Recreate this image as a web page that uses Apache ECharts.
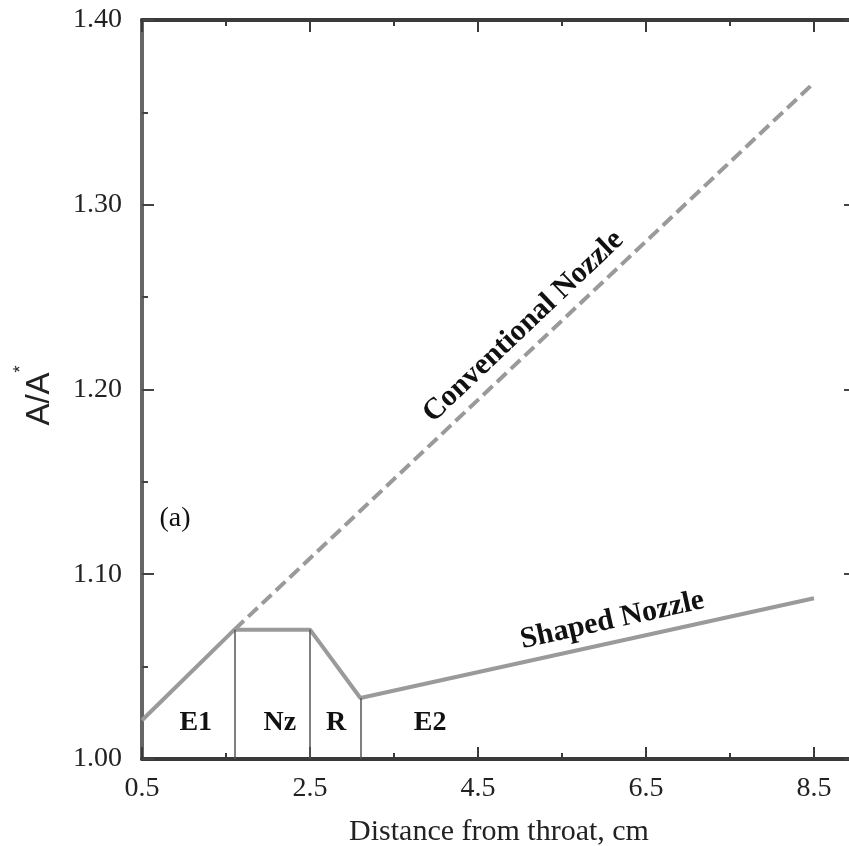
<!DOCTYPE html>
<html>
<head>
<meta charset="utf-8">
<script src="https://cdn.jsdelivr.net/npm/echarts@6/dist/echarts.min.js"></script>
<style>
html,body{margin:0;padding:0;background:#fff;}
#chart{width:849px;height:846px;}
</style>
</head>
<body>
<div id="chart"></div>
<script>
// ---- data ----
const xConventional = [1.6, 8.5];
const yConventional = [1.07, 1.366];
const xShaped = [0.5, 1.6, 2.5, 3.1, 8.5];
const yShaped = [1.021, 1.07, 1.07, 1.033, 1.087];
const boundaryX = [1.6, 2.5, 3.1];
const boundaryTop = [1.07, 1.07, 1.033];
const regionNames = ['E1', 'Nz', 'R', 'E2'];
const regionX = [1.14, 2.14, 2.81, 3.93];
const regionY = [1.0195, 1.0195, 1.0195, 1.0195];
const xTickLabels = ['0.5', '2.5', '4.5', '6.5', '8.5'];
const yTickLabels = ['1.00', '1.10', '1.20', '1.30', '1.40'];
const curveNames = ['Conventional Nozzle', 'Shaped Nozzle'];
const curveLabelX = [5.04, 6.10];
const curveLabelY = [1.234, 1.075];
const curveLabelAngle = [43.5, 12.5];
const panelLabel = '(a)';
const panelX = 0.893;
const panelY = 1.13;

const serif = 'Liberation Serif, Times New Roman, serif';
const sans = 'Liberation Sans, Arial, sans-serif';
const XMIN = 0.5, XMAX = 9.0, YMIN = 1.0, YMAX = 1.4;

function xAxisDef(pos, interval, tickLen, showLabel, lineShow) {
  return {
    type: 'value', position: pos, min: XMIN, max: XMAX, interval: interval,
    splitLine: {show: false},
    axisLine: {show: lineShow, onZero: false, lineStyle: {color: '#3a3a3a', width: 4}},
    axisTick: {show: true, inside: true, length: tickLen, lineStyle: {color: '#3a3a3a', width: 2}},
    axisLabel: {
      show: showLabel, margin: 16, fontFamily: serif, fontSize: 28, color: '#222',
      formatter: function (v) {
        const s = v.toFixed(1);
        return xTickLabels.indexOf(s) >= 0 ? s : '';
      }
    }
  };
}
function yAxisDef(pos, showLabel) {
  return {
    type: 'value', position: pos, min: YMIN, max: YMAX, interval: 0.1,
    splitLine: {show: false},
    axisLine: {show: true, onZero: false, lineStyle: {color: '#666', width: 4}},
    axisTick: {show: true, inside: true, length: 12, lineStyle: {color: '#444', width: 2}},
    minorTick: {show: true, splitNumber: 2, length: 6, lineStyle: {color: '#444', width: 2}},
    minorSplitLine: {show: false},
    axisLabel: {
      show: showLabel, margin: 20, fontFamily: serif, fontSize: 28, color: '#222',
      formatter: function (v) {
        const s = v.toFixed(2);
        return yTickLabels.indexOf(s) >= 0 ? s : '';
      }
    }
  };
}

const xA = xAxisDef('bottom', 2, 12, true, true);
xA.name = 'Distance from throat, cm';
xA.nameLocation = 'middle';
xA.nameGap = 58;
xA.nameTextStyle = {fontFamily: serif, fontSize: 30, color: '#222'};

const yA = yAxisDef('left', true);
yA.name = '{a|A/A}{s|*}';
yA.nameLocation = 'middle';
yA.nameGap = 86;
yA.nameTextStyle = {
  rich: {
    a: {fontFamily: sans, fontSize: 33, color: '#222', verticalAlign: 'bottom'},
    s: {fontFamily: sans, fontSize: 18, color: '#222', verticalAlign: 'top', padding: [0, 12, 26, 0]}
  }
};

const labelBase = {show: true, position: 'inside', formatter: p => p.name, opacity: 1, color: '#111'};

const option = {
  animation: false,
  backgroundColor: '#fff',
  grid: {left: 142, top: 20, width: 714, height: 739, containLabel: false, outerBoundsMode: 'none'},
  xAxis: [
    xA,
    xAxisDef('bottom', 1, 6, false, false),
    xAxisDef('top', 2, 12, false, true),
    xAxisDef('top', 1, 6, false, false)
  ],
  yAxis: [yA, yAxisDef('right', false)],
  series: [
    {
      type: 'line', name: curveNames[0], xAxisIndex: 0, yAxisIndex: 0,
      data: xConventional.map((x, i) => [x, yConventional[i]]),
      showSymbol: false, symbol: 'none', silent: true,
      lineStyle: {color: '#9a9a9a', width: 4, type: [13, 6]}
    },
    {
      type: 'line', name: curveNames[1], xAxisIndex: 0, yAxisIndex: 0,
      data: xShaped.map((x, i) => [x, yShaped[i]]),
      showSymbol: false, symbol: 'none', silent: true,
      lineStyle: {color: '#9a9a9a', width: 4},
      markLine: {
        silent: true, symbol: 'none', label: {show: false},
        lineStyle: {color: '#555', width: 1.5, type: 'solid'},
        data: boundaryX.map((x, i) => [{coord: [x, YMIN]}, {coord: [x, boundaryTop[i]]}])
      }
    },
    {
      type: 'scatter', xAxisIndex: 0, yAxisIndex: 0, symbolSize: 1, silent: true,
      itemStyle: {color: 'rgba(255,255,255,0)', opacity: 1},
      data: regionNames.map((n, i) => ({name: n, value: [regionX[i], regionY[i]]})),
      label: Object.assign({}, labelBase, {fontFamily: serif, fontSize: 28, fontWeight: 'bold'})
    },
    {
      type: 'scatter', xAxisIndex: 0, yAxisIndex: 0, symbolSize: 1, silent: true,
      itemStyle: {color: 'rgba(255,255,255,0)', opacity: 1},
      data: curveNames.map((n, i) => ({
        name: n, value: [curveLabelX[i], curveLabelY[i]],
        label: {rotate: curveLabelAngle[i]}
      })),
      label: Object.assign({}, labelBase, {fontFamily: serif, fontSize: 30, fontWeight: 'bold'})
    },
    {
      type: 'scatter', xAxisIndex: 0, yAxisIndex: 0, symbolSize: 1, silent: true,
      itemStyle: {color: 'rgba(255,255,255,0)', opacity: 1},
      data: [{name: panelLabel, value: [panelX, panelY]}],
      label: Object.assign({}, labelBase, {fontFamily: serif, fontSize: 28})
    }
  ]
};

const chart = echarts.init(document.getElementById('chart'), null, {renderer: 'canvas'});
chart.setOption(option);
</script>
</body>
</html>
